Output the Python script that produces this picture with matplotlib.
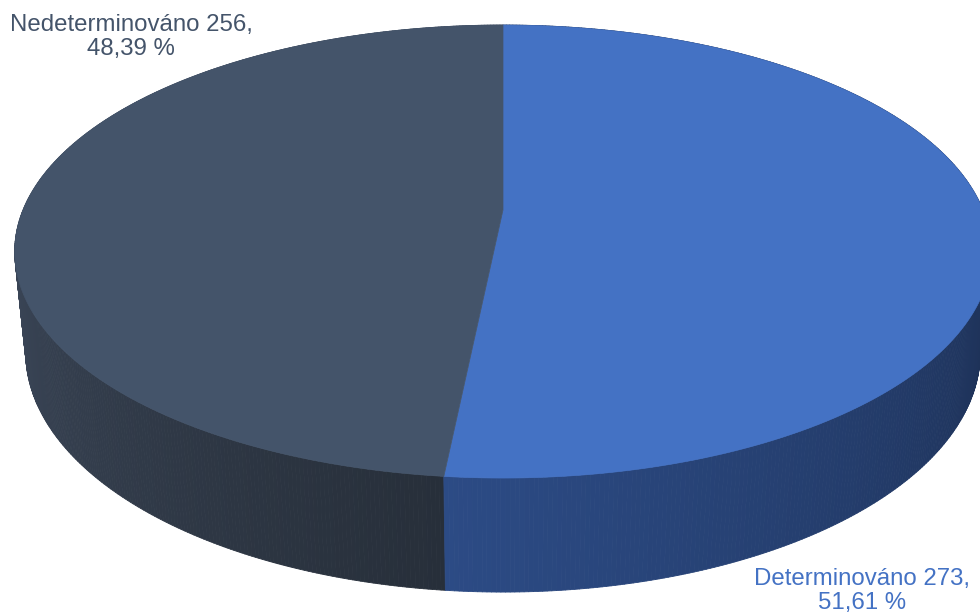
import numpy as np
import matplotlib.pyplot as plt
from matplotlib.collections import PolyCollection
from matplotlib.colors import to_rgb

labels = ["Determinováno", "Nedeterminováno"]
counts = [273, 256]
top_colors = ["#4472C4", "#44546A"]
side_light = ["#2C4B85", "#3F4B5E"]
side_dark = ["#1A2B4C", "#272F3A"]
label_colors = ["#4472C4", "#44546A"]

plt.rcParams["font.family"] = ["Liberation Sans", "DejaVu Sans"]

# camera / projection of a flat cylinder (radius 1, height h)
tilt = np.arcsin(0.456)
dist = 4.854
scale = 2330.0
cx, cy = 503.0, 210.0
height = 0.238


def project(phi, y):
    X = np.cos(phi)
    Z = np.sin(phi)
    v = y * np.cos(tilt) + Z * np.sin(tilt)
    d = dist + Z * np.cos(tilt) - y * np.sin(tilt)
    return cx + scale * X / d, cy - scale * v / d


fig = plt.figure(figsize=(9.8, 6.13), dpi=100)
ax = fig.add_axes([0, 0, 1, 1])
ax.set_xlim(0, 980)
ax.set_ylim(613, 0)
ax.axis("off")

total = sum(counts)
fracs = [c / total for c in counts]
start = np.pi / 2
bounds = []
a = start
for f in fracs:
    bounds.append((a, a - f * 2 * np.pi))
    a -= f * 2 * np.pi

# side walls, split into thin strips so each can carry its own shade
# (lighter on the left end of each slice, darker towards the right)
quads, cols, depth = [], [], []
for i, (a0, a1) in enumerate(bounds):
    n = 400
    phis = np.linspace(a0, a1, n + 1)
    vis = np.sin(phis) < 0.1
    vp = phis[vis]
    lo, hi = (vp.min(), vp.max()) if len(vp) else (a1, a0)
    c0 = np.array(to_rgb(side_light[i]))
    c1 = np.array(to_rgb(side_dark[i]))
    for p, q in zip(phis[:-1], phis[1:]):
        xt0, yt0 = project(p, 0)
        xt1, yt1 = project(q, 0)
        xb0, yb0 = project(p, -height)
        xb1, yb1 = project(q, -height)
        quads.append([(xt0, yt0), (xt1, yt1), (xb1, yb1), (xb0, yb0)])
        t = np.clip((0.5 * (p + q) - lo) / max(hi - lo, 1e-6), 0, 1)
        cols.append(c0 * (1 - t) + c1 * t)
        depth.append(np.sin(0.5 * (p + q)))
order = np.argsort(depth)[::-1]
side = PolyCollection([quads[k] for k in order],
                      facecolors=[cols[k] for k in order],
                      edgecolors=[cols[k] for k in order],
                      linewidths=0.6, zorder=1)
ax.add_collection(side)

# top faces
for i, (a0, a1) in enumerate(bounds):
    phis = np.linspace(a0, a1, 300)
    xs, ys = project(phis, 0)
    pts = np.vstack([[cx, cy], np.column_stack([xs, ys])])
    ax.fill(pts[:, 0], pts[:, 1], color=top_colors[i], lw=0.5,
            ec=top_colors[i], zorder=2)

# data labels
texts = [f"{labels[i]} {counts[i]},\n{fracs[i] * 100:.2f} %".replace(".", ",")
         for i in range(len(counts))]
ax.text(862, 591, texts[0], ha="center", va="center", fontsize=17.3,
        color=label_colors[0], linespacing=1.12, zorder=3)
ax.text(131, 37, texts[1], ha="center", va="center", fontsize=17.3,
        color=label_colors[1], linespacing=1.12, zorder=3)

fig.savefig("out.png", dpi=100)
